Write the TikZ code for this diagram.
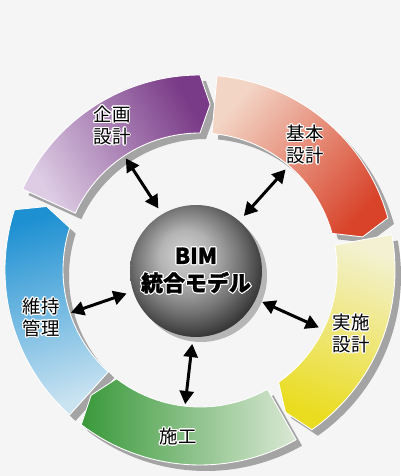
\documentclass[tikz,border=0pt]{standalone}
\usepackage{fontspec}
\newfontfamily\jp{Noto Sans CJK JP}
\newfontfamily\jpheavy{Noto Sans CJK JP}[BoldFeatures={FakeBold=1.3}]
\usepackage{contour}
\contourlength{0.6pt}
\usetikzlibrary{arrows.meta}
\definecolor{bgcol}{HTML}{F5F5F5}
\definecolor{shadowcol}{HTML}{A4A4A4}
\definecolor{kikakulo}{HTML}{DDCCE4}
\definecolor{kikakuhi}{HTML}{793A87}
\definecolor{kihonlo}{HTML}{F3D5C6}
\definecolor{kihonhi}{HTML}{D8432A}
\definecolor{jisshilo}{HTML}{F3F1D2}
\definecolor{jisshihi}{HTML}{EADC1F}
\definecolor{sekolo}{HTML}{DAE8D4}
\definecolor{sekohi}{HTML}{39993A}
\definecolor{ijilo}{HTML}{CAE3F1}
\definecolor{ijihi}{HTML}{1D90D2}
\pgfdeclareradialshading{bimball}{\pgfpoint{-5bp}{7bp}}{color(0bp)=(black!18); color(10bp)=(black!30); color(20bp)=(black!55); color(28bp)=(black!78); color(34bp)=(black!86); color(50bp)=(black!80)}
\newcommand\ringseg[3]{(#1:195) arc[start angle=#1, end angle=#2, radius=195] -- (#3:166) -- (#2:137) arc[start angle=#2, end angle=#1, radius=137] -- cycle}
\newcommand\halo[1]{\contour{white}{#1}}

\begin{document}
\begin{tikzpicture}[x=0.02cm, y=0.02cm,
  seg/.style={draw=white, line width=0.5pt},
  segshadow/.style={fill=shadowcol, shift={(6,-6)}},
  seglabel/.style={font=\jp\fontsize{10.5}{12.5}\selectfont, align=center, inner sep=0pt},
  biarrow/.style={{Triangle[length=7.5pt,width=8pt]}-{Triangle[length=7.5pt,width=8pt]}, line width=1.7pt}]
  \useasboundingbox (0,0) rectangle (400,476);
  \fill[bgcol] (0,0) rectangle (400,476);

  \begin{scope}[shift={(200,206)}]
    \fill[segshadow] \ringseg{155.5}{90}{86.5};
    \fill[segshadow] \ringseg{85}{15.5}{11.5};
    \fill[segshadow] \ringseg{10.5}{-55}{-59};
    \fill[segshadow] \ringseg{-60.5}{-127.5}{-131};
    \fill[segshadow] \ringseg{-132}{-198}{-202.5};

    \shadedraw[seg, top color=kikakuhi, bottom color=kikakulo, shading angle=-60] \ringseg{155.5}{90}{86.5};
    \shadedraw[seg, top color=kihonhi, bottom color=kihonlo, shading angle=-131] \ringseg{85}{15.5}{11.5};
    \shadedraw[seg, top color=jisshihi, bottom color=jisshilo, shading angle=159] \ringseg{10.5}{-55}{-59};
    \shadedraw[seg, top color=sekohi, bottom color=sekolo, shading angle=90] \ringseg{-60.5}{-127.5}{-131};
    \shadedraw[seg, top color=ijihi, bottom color=ijilo, shading angle=17] \ringseg{-132}{-198}{-202.5};

    \coordinate (kikaku-in) at (123.6:134);
    \coordinate (kihon-in) at (49.6:132);
    \coordinate (jisshi-in) at (-25.8:132);
    \coordinate (seko-in) at (-96.3:135);
    \coordinate (iji-in) at (-161.7:136);
  \end{scope}

  \fill[shadowcol!80] (201,200) circle (66);
  \node[circle, shading=bimball, minimum size=2.64cm, inner sep=0pt, outer sep=0.14cm,
        font=\jpheavy\bfseries\fontsize{12.5}{15.5}\selectfont, align=center] (bim) at (196,205)
        {\halo{BIM}\\\halo{統合モデル}};

  \draw[biarrow] (bim.121) -- (kikaku-in);
  \draw[biarrow] (bim.49) -- (kihon-in);
  \draw[biarrow] (bim.-25) -- (jisshi-in);
  \draw[biarrow] (bim.-93) -- (seko-in);
  \draw[biarrow] (bim.-162) -- (iji-in);

  \node[seglabel] (kikaku-lbl) at (112,350) {\halo{企画}\\\halo{設計}};
  \node[seglabel] (kihon-lbl) at (305,331) {\halo{基本}\\\halo{設計}};
  \node[seglabel] (jisshi-lbl) at (351,142) {\halo{実施}\\\halo{設計}};
  \node[seglabel] (seko-lbl) at (178,39) {\halo{施工}};
  \node[seglabel] (iji-lbl) at (41,158) {\halo{維持}\\\halo{管理}};
\end{tikzpicture}
\end{document}
